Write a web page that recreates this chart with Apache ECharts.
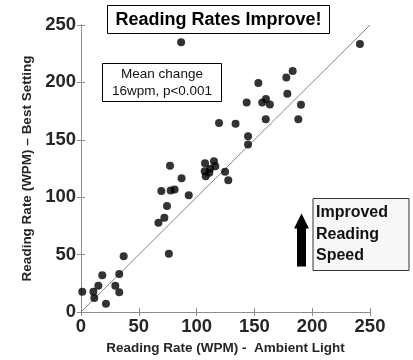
<!DOCTYPE html>
<html>
<head>
<meta charset="utf-8">
<script src="https://cdn.jsdelivr.net/npm/echarts@6/dist/echarts.min.js"></script>
<style>html,body{margin:0;padding:0;background:#fff}#c{width:413px;height:360px}</style>
</head>
<body>
<div id="c"></div>
<script>
// Reading rate (WPM): ambient light (x) vs best setting (y)
const ambient = [1.1, 10.7, 11.5, 15, 18.4, 21.6, 29.7, 33.1, 33.1, 36.9,
  77, 87, 69.5, 77.6, 81, 93.2, 74.4, 72.1, 67, 76,
  107.3, 115, 116.2, 107, 107.9, 111, 111.6, 124.6, 127.4, 119.4,
  133.7, 144.5, 144.5, 183.1, 177.6, 153.4, 178.5, 143.3, 156.8, 160, 163.4, 190.3, 159.8, 188,
  86.6, 241.3];
const best = [17.6, 17.6, 12.1, 22.8, 32.1, 7.2, 22.8, 17.1, 33, 48.6,
  127.3, 116.6, 105.3, 105.9, 106.8, 101.8, 92.3, 82, 77.7, 50.8,
  129.6, 131.3, 127, 122.7, 118.3, 121.3, 124.7, 122.1, 114.8, 164.7,
  164, 153, 145.8, 210, 204.3, 199.4, 190.1, 182.6, 182.6, 185.5, 180.8, 180.6, 167.8, 167.8,
  235, 233.5];
const ticks = [0, 50, 100, 150, 200, 250];
const identity = [[0, 0], [250, 250]];

const points = ambient.map((v, i) => [v, best[i]]);
const chart = echarts.init(document.getElementById('c'));
const axisCommon = {
  min: 0, max: 250, interval: 50,
  axisLine: {show: true, lineStyle: {color: '#8c8c8c', width: 1}},
  axisTick: {show: true, inside: true, length: 4, lineStyle: {color: '#8c8c8c'}},
  splitLine: {show: false}
};
const labelStyle = {fontFamily: 'Liberation Sans, Arial', fontWeight: 'bold', fontSize: 18.5, color: '#262626'};
const nameStyle = {fontFamily: 'Liberation Sans, Arial', fontWeight: 'bold', fontSize: 13.5, color: '#262626'};
chart.setOption({
  animation: false,
  grid: {left: 81, top: 25, width: 289, height: 288},
  xAxis: [
    Object.assign({}, axisCommon, {type: 'value', position: 'bottom',
      axisLabel: Object.assign({margin: 5, formatter: v => ticks.includes(v) ? String(v) : ''}, labelStyle),
      name: 'Reading Rate (WPM) -  Ambient Light', nameLocation: 'middle', nameGap: 29,
      nameTextStyle: nameStyle}),
    Object.assign({}, axisCommon, {type: 'value', position: 'top', axisLabel: {show: false}})
  ],
  yAxis: [
    Object.assign({}, axisCommon, {type: 'value', position: 'left',
      axisLabel: Object.assign({margin: 5, formatter: v => ticks.includes(v) ? String(v) : ''}, labelStyle),
      name: 'Reading Rate (WPM) – Best Setting', nameLocation: 'middle', nameGap: 39,
      nameTextStyle: nameStyle}),
    Object.assign({}, axisCommon, {type: 'value', position: 'right', axisLabel: {show: false}})
  ],
  series: [
    {type: 'line', data: identity, symbol: 'none', silent: true,
      lineStyle: {color: '#666', width: 0.8}, z: 1},
    {type: 'scatter', data: points, symbol: 'circle', symbolSize: 8,
      itemStyle: {color: '#000'}, z: 3}
  ],
  graphic: [
    {type: 'group', left: 107, top: 5, z: 10, children: [
      {type: 'rect', shape: {x: 0, y: 0, width: 222, height: 28},
        style: {fill: '#fff', stroke: '#000', lineWidth: 1}},
      {type: 'text', x: 111, y: 14.5, style: {text: 'Reading Rates Improve!', align: 'center', verticalAlign: 'middle',
        font: 'bold 18px "Liberation Sans", Arial', fill: '#000'}}
    ]},
    {type: 'group', left: 102, top: 63, z: 10, children: [
      {type: 'rect', shape: {x: 0, y: 0, width: 119, height: 38},
        style: {fill: '#fff', stroke: '#000', lineWidth: 1}},
      {type: 'text', x: 59.5, y: 19.5, style: {text: 'Mean change\n16wpm, p<0.001', align: 'center', verticalAlign: 'middle',
        font: '13.5px "Liberation Sans", Arial', lineHeight: 17, fill: '#111'}}
    ]},
    {type: 'group', left: 294, top: 198, z: 10, children: [
      {type: 'polygon', shape: {points: [[3, 68], [3, 30], [0, 30], [7.5, 15], [15, 30], [12, 30], [12, 68]]},
        style: {fill: '#000'}},
      {type: 'rect', shape: {x: 19, y: 0, width: 96, height: 72},
        style: {fill: '#f7f7f7', stroke: '#333', lineWidth: 1}},
      {type: 'text', x: 22, y: 36, style: {text: 'Improved\nReading\nSpeed', align: 'left', verticalAlign: 'middle',
        font: 'bold 16px "Liberation Sans", Arial', lineHeight: 21.5, fill: '#111'}}
    ]}
  ]
});
</script>
</body>
</html>
